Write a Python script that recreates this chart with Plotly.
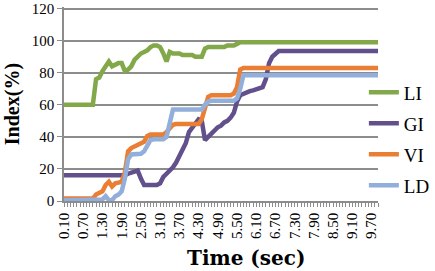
import plotly.graph_objects as go

times = [0.1, 0.2, 0.3, 0.4, 0.5, 0.6, 0.7, 0.8, 0.9, 1.0,
         1.1, 1.2, 1.3, 1.4, 1.5, 1.6, 1.7, 1.8, 1.9, 2.0,
         2.1, 2.2, 2.3, 2.4, 2.5, 2.6, 2.7, 2.8, 2.9, 3.0,
         3.1, 3.2, 3.3, 3.4, 3.5, 3.6, 3.7, 3.8, 3.9, 4.0,
         4.1, 4.2, 4.3, 4.4, 4.5, 4.6, 4.7, 4.8, 4.9, 5.0,
         5.1, 5.2, 5.3, 5.4, 5.5, 5.6, 5.7, 5.8, 5.9, 6.0,
         6.1, 6.2, 6.3, 6.4, 6.5, 6.6, 6.7, 6.8, 6.9, 7.0,
         7.1, 7.2, 7.3, 7.4, 7.5, 7.6, 7.7, 7.8, 7.9, 8.0,
         8.1, 8.2, 8.3, 8.4, 8.5, 8.6, 8.7, 8.8, 8.9, 9.0,
         9.1, 9.2, 9.3, 9.4, 9.5, 9.6, 9.7, 9.8, 9.9]

LI = [60, 60, 60, 60, 60, 60, 60, 60, 60, 60,
      76, 77, 81, 84, 87, 84, 85, 86, 86, 81,
      82, 84, 88, 90, 92, 93, 94, 96, 97, 97,
      96, 92, 87, 93, 92, 92, 92, 91, 91, 91,
      91, 90, 90, 90, 95, 96, 96, 96, 96, 96,
      96, 97, 97, 97, 98, 99, 99, 99, 99, 99,
      99, 99, 99, 99, 99, 99, 99, 99, 99, 99,
      99, 99, 99, 99, 99, 99, 99, 99, 99, 99,
      99, 99, 99, 99, 99, 99, 99, 99, 99, 99,
      99, 99, 99, 99, 99, 99, 99, 99, 99]

GI = [16, 16, 16, 16, 16, 16, 16, 16, 16, 16,
      16, 16, 16, 16, 16, 16, 16, 16, 16, 16,
      17, 17.5, 18, 19, 14, 10, 10, 10, 10, 10,
      11, 15, 17, 19, 21, 24, 28, 32, 36, 43,
      46, 49, 51, 50, 38, 40, 42, 44, 46, 47,
      49, 50, 52, 55, 62, 66, 67, 68, 68.5, 69,
      69.5, 70, 71, 76, 86, 90, 92, 93.5, 93.5, 93.5,
      93.5, 93.5, 93.5, 93.5, 93.5, 93.5, 93.5, 93.5, 93.5, 93.5,
      93.5, 93.5, 93.5, 93.5, 93.5, 93.5, 93.5, 93.5, 93.5, 93.5,
      93.5, 93.5, 93.5, 93.5, 93.5, 93.5, 93.5, 93.5, 93.5]

VI = [1.5, 1.5, 1.5, 1.5, 1.5, 1.5, 1.5, 1.5, 1.5, 1.5,
      4, 5, 6, 10, 12, 9, 11, 11.5, 12, 18,
      31, 33, 34, 35, 35.5, 37, 40.5, 41.5, 41.5, 41.5,
      41.5, 41.5, 43, 45.5, 47.5, 48, 48, 48, 48, 48,
      48, 48, 48, 51, 58, 65, 66, 66, 66, 66,
      66, 66, 66, 67, 71, 82, 83, 83, 83, 83,
      83, 83, 83, 83, 83, 83, 83, 83, 83, 83,
      83, 83, 83, 83, 83, 83, 83, 83, 83, 83,
      83, 83, 83, 83, 83, 83, 83, 83, 83, 83,
      83, 83, 83, 83, 83, 83, 83, 83, 83]

LD = [0.5, 0.5, 0.5, 0.5, 0.5, 0.5, 0.5, 0.5, 0.5, 0.5,
      0.5, 0.5, 1, 3, 0.5, 0.5, 3, 4, 6, 14,
      26, 29, 29, 29, 29.5, 31, 35, 38, 38.5, 38.5,
      38.5, 38.5, 40, 49, 57, 57, 57, 57, 57, 57,
      57, 57, 57, 57, 60, 62, 62.5, 62.5, 62.5, 62.5,
      62.5, 62.5, 62.5, 62.5, 64, 70, 78.5, 78.5, 78.5, 78.5,
      78.5, 78.5, 78.5, 78.5, 78.5, 78.5, 78.5, 78.5, 78.5, 78.5,
      78.5, 78.5, 78.5, 78.5, 78.5, 78.5, 78.5, 78.5, 78.5, 78.5,
      78.5, 78.5, 78.5, 78.5, 78.5, 78.5, 78.5, 78.5, 78.5, 78.5,
      78.5, 78.5, 78.5, 78.5, 78.5, 78.5, 78.5, 78.5, 78.5]

tick_labels = ["0.10", "0.70", "1.30", "1.90", "2.50", "3.10", "3.70", "4.30",
               "4.90", "5.50", "6.10", "6.70", "7.30", "7.90", "8.50", "9.10", "9.70"]
y_ticks = [0, 20, 40, 60, 80, 100, 120]

series = [("LI", LI, "#83A84A"), ("GI", GI, "#62508C"),
          ("VI", VI, "#EA7E33"), ("LD", LD, "#92AEDA")]

FONT = "Liberation Serif"
GRID = "#8C8C8C"

fig = go.Figure()
legend_ids = ["legend", "legend2", "legend3", "legend4"]
legend_y = [0.56, 0.40, 0.24, 0.08]
for (name, vals, col), lid in zip(series, legend_ids):
    fig.add_trace(go.Scatter(x=times, y=vals, name=name, mode="lines",
                             line=dict(color=col, width=4.5, shape="linear"),
                             legend=lid))

layout_legends = {}
for lid, ly in zip(legend_ids, legend_y):
    layout_legends[lid] = dict(x=0.955, y=ly, xanchor="left", yanchor="middle",
                               bgcolor="rgba(0,0,0,0)", borderwidth=0,
                               font=dict(family=FONT, size=19, color="black"),
                               itemwidth=30)

fig.update_layout(
    width=435, height=271,
    margin=dict(l=64, r=57, t=7, b=70, autoexpand=False),
    paper_bgcolor="white", plot_bgcolor="white",
    font=dict(family=FONT, color="black"),
    showlegend=True,
    **layout_legends,
    xaxis=dict(range=[0.1, 9.9], tickmode="array",
               tickvals=[float(s) for s in tick_labels], ticktext=tick_labels,
               tickangle=-90, tickfont=dict(family=FONT, size=15, color="black"),
               ticks="outside", ticklen=4, tickcolor=GRID, tickwidth=1,
               minor=dict(dtick=0.1, tick0=0.1, ticks="outside", ticklen=4,
                          tickcolor=GRID, tickwidth=1, showgrid=False),
               showgrid=False, showline=True, linecolor=GRID, linewidth=1.5,
               zeroline=False, automargin=False, ticklabeloverflow="allow"),
    yaxis=dict(range=[0, 121], tickmode="array", tickvals=y_ticks,
               ticktext=[str(v) for v in y_ticks],
               tickfont=dict(family=FONT, size=15, color="black"),
               ticks="outside", ticklen=5, tickcolor=GRID,
               showgrid=True, gridcolor=GRID, gridwidth=1.5,
               showline=True, linecolor=GRID, linewidth=1.5, zeroline=False,
               automargin=False, ticklabeloverflow="allow"),
    annotations=[
        dict(text="<b>Index(%)</b>", xref="paper", yref="paper", x=-0.165, y=0.5,
             xanchor="center", yanchor="middle", textangle=-90, showarrow=False,
             font=dict(family=FONT, size=20, color="black")),
        dict(text="<b>Time (sec)</b>", xref="paper", yref="paper", x=0.58, y=-0.295,
             xanchor="center", yanchor="middle", showarrow=False,
             font=dict(family="DejaVu Serif", size=20, color="black")),
    ],
)

fig.write_html("out.html", config={"displayModeBar": False},
               post_script="document.body.style.margin='0';document.body.style.overflow='hidden';")
